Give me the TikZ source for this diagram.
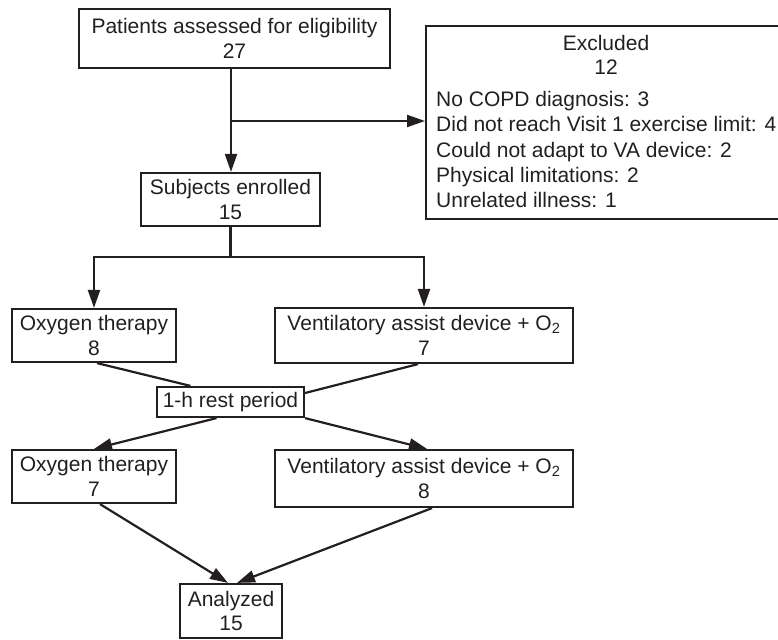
\documentclass[tikz,border=0pt]{standalone}
\usepackage{fontspec}
\setmainfont{Liberation Sans}
\usetikzlibrary{arrows.meta}
\definecolor{ink}{RGB}{35,31,32}

\begin{document}
\begin{tikzpicture}[x=1pt,y=1pt,
  box/.style={draw=ink, line width=2.2pt, align=center, inner sep=0pt, text=ink},
  words/.style={text=ink, inner sep=0pt},
  link/.style={draw=ink, line width=2.2pt},
  arr/.style={link, -{Triangle[length=18pt,width=12pt]}},
  font=\fontsize{21}{24.5}\selectfont]
\useasboundingbox (0,0) rectangle (778,-639);

% Boxes
\node[box, minimum width=311pt, minimum height=59pt] (patients) at (234.5,-38.5) {Patients assessed for eligibility\\27};
\node[box, anchor=north west, minimum width=362pt, minimum height=193pt] (excluded) at (425,-25) {};
\node[words, align=center, anchor=north] (exhead) at (606,-35) {Excluded\\12};
\node[words, align=left, anchor=north west, font=\fontsize{21}{25.3}\selectfont] (exlist) at (436,-91)
  {No COPD diagnosis: 3\\Did not reach Visit 1 exercise limit: 4\\Could not adapt to VA device: 2\\Physical limitations: 2\\Unrelated illness: 1};
\node[box, minimum width=179pt, minimum height=53pt] (enrolled) at (230.5,-199.5) {Subjects enrolled\\15};
\node[box, minimum width=164pt, minimum height=53pt] (oxyA) at (94,-335.5) {Oxygen therapy\\8};
\node[box, minimum width=298pt, minimum height=55pt] (ventA) at (424,-335.5) {Ventilatory assist device + O\textsubscript{2}\\7};
\node[box, minimum width=147pt, minimum height=30pt] (rest) at (230.5,-402) {1-h rest period};
\node[box, minimum width=164pt, minimum height=53pt] (oxyB) at (94,-476.5) {Oxygen therapy\\7};
\node[box, minimum width=298pt, minimum height=57pt] (ventB) at (424,-478.5) {Ventilatory assist device + O\textsubscript{2}\\8};
\node[box, minimum width=102pt, minimum height=54pt] (analyzed) at (231,-611) {Analyzed\\15};

% Enrollment
\coordinate (split) at (231,-121);
\draw[link] (patients.south -| split) -- (split);
\draw[arr] (split) -- (split |- enrolled.north);
\draw[arr] (split) -- (split -| excluded.west);

% Allocation
\coordinate (fork) at (230.5,-257);
\draw[link] (enrolled.south) -- (fork);
\draw[arr] (fork) -| (oxyA.north);
\draw[arr] (fork) -| (ventA.north);

% Crossover
\draw[link] ([xshift=3pt]oxyA.south) -- ([xshift=-40pt]rest.north);
\draw[link] ([xshift=-6pt]ventA.south) -- ([yshift=9pt]rest.east);
\draw[arr] ([xshift=-14pt]rest.south) -- (oxyB.north);
\draw[arr] (rest.south east) -- ([xshift=3pt]ventB.north);

% Analysis
\draw[arr] ([xshift=6pt]oxyB.south) -- ([xshift=-3pt]analyzed.north);
\draw[arr] ([xshift=8pt]ventB.south) -- ([xshift=6pt]analyzed.north);
\end{tikzpicture}
\end{document}
